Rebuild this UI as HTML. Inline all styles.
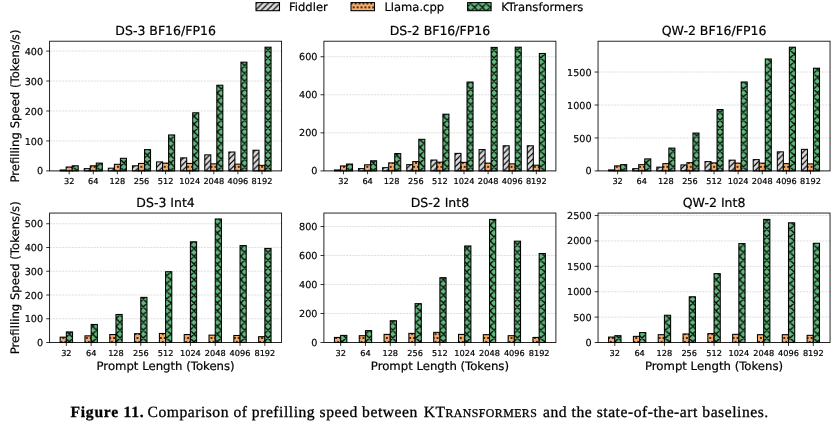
<!DOCTYPE html>
<html lang="en">
<head>
<meta charset="utf-8">
<title>Figure 11</title>
<style>
html,body{margin:0;padding:0;background:#fff;}
body{width:840px;height:425px;position:relative;overflow:hidden;}
.cap{position:absolute;left:0;top:0;width:840px;height:425px;
 font-family:"Liberation Serif","DejaVu Serif",serif;font-size:15.6px;color:#000;text-rendering:geometricPrecision;}
.seg{position:absolute;top:401px;line-height:24px;white-space:nowrap;-webkit-text-stroke:0.3px #000;}
.cap b{font-weight:bold;}
.cap .sm{font-size:0.76em;}
</style>
</head>
<body>
<svg width="840" height="385" viewBox="0 0 840 385" style="position:absolute;left:0;top:0;display:block">
<style>text{stroke:#000;stroke-width:0.2px}</style>
<defs>
<pattern id="hf" patternUnits="userSpaceOnUse" width="5.8448" height="5.8350" x="3.04" y="5.41"><path d="M-11.69 11.67 L5.84 -5.83 M-5.84 11.67 L11.69 -5.83 M0 11.67 L17.53 -5.83" stroke="#000" stroke-width="1.2" fill="none"/></pattern>
<pattern id="hk" patternUnits="userSpaceOnUse" width="7.7930" height="7.7800" x="6.94" y="7.36"><path d="M-15.59 15.56 L7.79 -7.78 M-15.59 -7.78 L7.79 15.56 M-7.79 15.56 L15.59 -7.78 M-7.79 -7.78 L15.59 15.56 M0 15.56 L23.38 -7.78 M0 -7.78 L23.38 15.56" stroke="#000" stroke-width="1.3" fill="none"/></pattern>
<pattern id="hl" patternUnits="userSpaceOnUse" width="3.8965" height="7.7800" x="3.04" y="7.36"><g fill="#000"><circle cx="0" cy="0" r="1"/><circle cx="3.9" cy="0" r="1"/><circle cx="0" cy="7.78" r="1"/><circle cx="3.9" cy="7.78" r="1"/><circle cx="1.95" cy="3.89" r="1"/></g></pattern>
</defs>
<g font-family="'DejaVu Sans','Liberation Sans',sans-serif" fill="#000" text-rendering="geometricPrecision">
<rect x="256" y="2.6" width="23.5" height="8.1" fill="#dbdbdb"/>
<rect x="256" y="2.6" width="23.5" height="8.1" fill="url(#hf)" stroke="#000" stroke-width="1.05"/>
<text x="289" y="10.9" font-size="11.55">Fiddler</text>
<rect x="351" y="2.6" width="23.5" height="8.1" fill="#f5ab69"/>
<rect x="351" y="2.6" width="23.5" height="8.1" fill="url(#hl)" stroke="#000" stroke-width="1.05"/>
<text x="384.4" y="10.9" font-size="11.55">Llama.cpp</text>
<rect x="467.6" y="2.6" width="23.5" height="8.1" fill="#62b97c"/>
<rect x="467.6" y="2.6" width="23.5" height="8.1" fill="url(#hk)" stroke="#000" stroke-width="1.05"/>
<text x="501.2" y="10.9" font-size="11.55">KTransformers</text>
<line x1="49.6" x2="281.6" y1="170.9" y2="170.9" stroke="#b0b0b0" stroke-opacity="0.6" stroke-width="0.65" stroke-dasharray="2.2 0.95"/>
<line x1="49.6" x2="281.6" y1="140.95" y2="140.95" stroke="#b0b0b0" stroke-opacity="0.6" stroke-width="0.65" stroke-dasharray="2.2 0.95"/>
<line x1="49.6" x2="281.6" y1="110.99" y2="110.99" stroke="#b0b0b0" stroke-opacity="0.6" stroke-width="0.65" stroke-dasharray="2.2 0.95"/>
<line x1="49.6" x2="281.6" y1="81.04" y2="81.04" stroke="#b0b0b0" stroke-opacity="0.6" stroke-width="0.65" stroke-dasharray="2.2 0.95"/>
<line x1="49.6" x2="281.6" y1="51.08" y2="51.08" stroke="#b0b0b0" stroke-opacity="0.6" stroke-width="0.65" stroke-dasharray="2.2 0.95"/>
<rect x="60.15" y="170" width="6.03" height="0.9" fill="#dbdbdb"/>
<rect x="60.15" y="170" width="6.03" height="0.9" fill="url(#hf)" stroke="#000" stroke-width="1.05"/>
<rect x="66.17" y="167.01" width="6.03" height="3.89" fill="#f5ab69"/>
<rect x="66.17" y="167.01" width="6.03" height="3.89" fill="url(#hl)" stroke="#000" stroke-width="1.05"/>
<rect x="72.2" y="165.81" width="6.03" height="5.09" fill="#62b97c"/>
<rect x="72.2" y="165.81" width="6.03" height="5.09" fill="url(#hk)" stroke="#000" stroke-width="1.05"/>
<rect x="84.25" y="168.65" width="6.03" height="2.25" fill="#dbdbdb"/>
<rect x="84.25" y="168.65" width="6.03" height="2.25" fill="url(#hf)" stroke="#000" stroke-width="1.05"/>
<rect x="90.28" y="165.81" width="6.03" height="5.09" fill="#f5ab69"/>
<rect x="90.28" y="165.81" width="6.03" height="5.09" fill="url(#hl)" stroke="#000" stroke-width="1.05"/>
<rect x="96.3" y="163.11" width="6.03" height="7.79" fill="#62b97c"/>
<rect x="96.3" y="163.11" width="6.03" height="7.79" fill="url(#hk)" stroke="#000" stroke-width="1.05"/>
<rect x="108.35" y="168.2" width="6.03" height="2.7" fill="#dbdbdb"/>
<rect x="108.35" y="168.2" width="6.03" height="2.7" fill="url(#hf)" stroke="#000" stroke-width="1.05"/>
<rect x="114.38" y="164.31" width="6.03" height="6.59" fill="#f5ab69"/>
<rect x="114.38" y="164.31" width="6.03" height="6.59" fill="url(#hl)" stroke="#000" stroke-width="1.05"/>
<rect x="120.41" y="158.32" width="6.03" height="12.58" fill="#62b97c"/>
<rect x="120.41" y="158.32" width="6.03" height="12.58" fill="url(#hk)" stroke="#000" stroke-width="1.05"/>
<rect x="132.46" y="165.81" width="6.03" height="5.09" fill="#dbdbdb"/>
<rect x="132.46" y="165.81" width="6.03" height="5.09" fill="url(#hf)" stroke="#000" stroke-width="1.05"/>
<rect x="138.48" y="163.41" width="6.03" height="7.49" fill="#f5ab69"/>
<rect x="138.48" y="163.41" width="6.03" height="7.49" fill="url(#hl)" stroke="#000" stroke-width="1.05"/>
<rect x="144.51" y="149.63" width="6.03" height="21.27" fill="#62b97c"/>
<rect x="144.51" y="149.63" width="6.03" height="21.27" fill="url(#hk)" stroke="#000" stroke-width="1.05"/>
<rect x="156.56" y="161.91" width="6.03" height="8.99" fill="#dbdbdb"/>
<rect x="156.56" y="161.91" width="6.03" height="8.99" fill="url(#hf)" stroke="#000" stroke-width="1.05"/>
<rect x="162.59" y="163.11" width="6.03" height="7.79" fill="#f5ab69"/>
<rect x="162.59" y="163.11" width="6.03" height="7.79" fill="url(#hl)" stroke="#000" stroke-width="1.05"/>
<rect x="168.61" y="134.96" width="6.03" height="35.94" fill="#62b97c"/>
<rect x="168.61" y="134.96" width="6.03" height="35.94" fill="url(#hk)" stroke="#000" stroke-width="1.05"/>
<rect x="180.66" y="157.87" width="6.03" height="13.03" fill="#dbdbdb"/>
<rect x="180.66" y="157.87" width="6.03" height="13.03" fill="url(#hf)" stroke="#000" stroke-width="1.05"/>
<rect x="186.69" y="163.41" width="6.03" height="7.49" fill="#f5ab69"/>
<rect x="186.69" y="163.41" width="6.03" height="7.49" fill="url(#hl)" stroke="#000" stroke-width="1.05"/>
<rect x="192.72" y="112.79" width="6.03" height="58.11" fill="#62b97c"/>
<rect x="192.72" y="112.79" width="6.03" height="58.11" fill="url(#hk)" stroke="#000" stroke-width="1.05"/>
<rect x="204.77" y="154.87" width="6.03" height="16.03" fill="#dbdbdb"/>
<rect x="204.77" y="154.87" width="6.03" height="16.03" fill="url(#hf)" stroke="#000" stroke-width="1.05"/>
<rect x="210.79" y="163.86" width="6.03" height="7.04" fill="#f5ab69"/>
<rect x="210.79" y="163.86" width="6.03" height="7.04" fill="url(#hl)" stroke="#000" stroke-width="1.05"/>
<rect x="216.82" y="85.23" width="6.03" height="85.67" fill="#62b97c"/>
<rect x="216.82" y="85.23" width="6.03" height="85.67" fill="url(#hk)" stroke="#000" stroke-width="1.05"/>
<rect x="228.87" y="152.03" width="6.03" height="18.87" fill="#dbdbdb"/>
<rect x="228.87" y="152.03" width="6.03" height="18.87" fill="url(#hf)" stroke="#000" stroke-width="1.05"/>
<rect x="234.9" y="164.16" width="6.03" height="6.74" fill="#f5ab69"/>
<rect x="234.9" y="164.16" width="6.03" height="6.74" fill="url(#hl)" stroke="#000" stroke-width="1.05"/>
<rect x="240.92" y="62.17" width="6.03" height="108.73" fill="#62b97c"/>
<rect x="240.92" y="62.17" width="6.03" height="108.73" fill="url(#hk)" stroke="#000" stroke-width="1.05"/>
<rect x="252.98" y="150.23" width="6.03" height="20.67" fill="#dbdbdb"/>
<rect x="252.98" y="150.23" width="6.03" height="20.67" fill="url(#hf)" stroke="#000" stroke-width="1.05"/>
<rect x="259" y="165.36" width="6.03" height="5.54" fill="#f5ab69"/>
<rect x="259" y="165.36" width="6.03" height="5.54" fill="url(#hl)" stroke="#000" stroke-width="1.05"/>
<rect x="265.03" y="47.19" width="6.03" height="123.71" fill="#62b97c"/>
<rect x="265.03" y="47.19" width="6.03" height="123.71" fill="url(#hk)" stroke="#000" stroke-width="1.05"/>
<rect x="49.6" y="41.2" width="232" height="129.7" fill="none" stroke="#000" stroke-width="0.85"/>
<line x1="46.2" x2="49.6" y1="170.9" y2="170.9" stroke="#000" stroke-width="0.8"/>
<text x="43.1" y="174.45" font-size="9.65" text-anchor="end">0</text>
<line x1="46.2" x2="49.6" y1="140.95" y2="140.95" stroke="#000" stroke-width="0.8"/>
<text x="43.1" y="144.5" font-size="9.65" text-anchor="end">100</text>
<line x1="46.2" x2="49.6" y1="110.99" y2="110.99" stroke="#000" stroke-width="0.8"/>
<text x="43.1" y="114.54" font-size="9.65" text-anchor="end">200</text>
<line x1="46.2" x2="49.6" y1="81.04" y2="81.04" stroke="#000" stroke-width="0.8"/>
<text x="43.1" y="84.59" font-size="9.65" text-anchor="end">300</text>
<line x1="46.2" x2="49.6" y1="51.08" y2="51.08" stroke="#000" stroke-width="0.8"/>
<text x="43.1" y="54.63" font-size="9.65" text-anchor="end">400</text>
<line x1="69.18" x2="69.18" y1="170.9" y2="174.3" stroke="#000" stroke-width="0.8"/>
<text x="69.18" y="184.2" font-size="8.2" text-anchor="middle">32</text>
<line x1="93.29" x2="93.29" y1="170.9" y2="174.3" stroke="#000" stroke-width="0.8"/>
<text x="93.29" y="184.2" font-size="8.2" text-anchor="middle">64</text>
<line x1="117.39" x2="117.39" y1="170.9" y2="174.3" stroke="#000" stroke-width="0.8"/>
<text x="117.39" y="184.2" font-size="8.2" text-anchor="middle">128</text>
<line x1="141.5" x2="141.5" y1="170.9" y2="174.3" stroke="#000" stroke-width="0.8"/>
<text x="141.5" y="184.2" font-size="8.2" text-anchor="middle">256</text>
<line x1="165.6" x2="165.6" y1="170.9" y2="174.3" stroke="#000" stroke-width="0.8"/>
<text x="165.6" y="184.2" font-size="8.2" text-anchor="middle">512</text>
<line x1="189.7" x2="189.7" y1="170.9" y2="174.3" stroke="#000" stroke-width="0.8"/>
<text x="189.7" y="184.2" font-size="8.2" text-anchor="middle">1024</text>
<line x1="213.81" x2="213.81" y1="170.9" y2="174.3" stroke="#000" stroke-width="0.8"/>
<text x="213.81" y="184.2" font-size="8.2" text-anchor="middle">2048</text>
<line x1="237.91" x2="237.91" y1="170.9" y2="174.3" stroke="#000" stroke-width="0.8"/>
<text x="237.91" y="184.2" font-size="8.2" text-anchor="middle">4096</text>
<line x1="262.02" x2="262.02" y1="170.9" y2="174.3" stroke="#000" stroke-width="0.8"/>
<text x="262.02" y="184.2" font-size="8.2" text-anchor="middle">8192</text>
<text x="165.6" y="35.2" font-size="12.5" text-anchor="middle">DS-3 BF16/FP16</text>
<text transform="translate(18.6 106.05) rotate(-90)" font-size="11.7" text-anchor="middle">Prefilling Speed (Tokens/s)</text>
<line x1="323.9" x2="555.9" y1="170.9" y2="170.9" stroke="#b0b0b0" stroke-opacity="0.6" stroke-width="0.65" stroke-dasharray="2.2 0.95"/>
<line x1="323.9" x2="555.9" y1="132.84" y2="132.84" stroke="#b0b0b0" stroke-opacity="0.6" stroke-width="0.65" stroke-dasharray="2.2 0.95"/>
<line x1="323.9" x2="555.9" y1="94.78" y2="94.78" stroke="#b0b0b0" stroke-opacity="0.6" stroke-width="0.65" stroke-dasharray="2.2 0.95"/>
<line x1="323.9" x2="555.9" y1="56.73" y2="56.73" stroke="#b0b0b0" stroke-opacity="0.6" stroke-width="0.65" stroke-dasharray="2.2 0.95"/>
<rect x="334.45" y="169.95" width="6.03" height="0.95" fill="#dbdbdb"/>
<rect x="334.45" y="169.95" width="6.03" height="0.95" fill="url(#hf)" stroke="#000" stroke-width="1.05"/>
<rect x="340.47" y="165.95" width="6.03" height="4.95" fill="#f5ab69"/>
<rect x="340.47" y="165.95" width="6.03" height="4.95" fill="url(#hl)" stroke="#000" stroke-width="1.05"/>
<rect x="346.5" y="164.05" width="6.03" height="6.85" fill="#62b97c"/>
<rect x="346.5" y="164.05" width="6.03" height="6.85" fill="url(#hk)" stroke="#000" stroke-width="1.05"/>
<rect x="358.55" y="168.62" width="6.03" height="2.28" fill="#dbdbdb"/>
<rect x="358.55" y="168.62" width="6.03" height="2.28" fill="url(#hf)" stroke="#000" stroke-width="1.05"/>
<rect x="364.58" y="164.81" width="6.03" height="6.09" fill="#f5ab69"/>
<rect x="364.58" y="164.81" width="6.03" height="6.09" fill="url(#hl)" stroke="#000" stroke-width="1.05"/>
<rect x="370.6" y="160.81" width="6.03" height="10.09" fill="#62b97c"/>
<rect x="370.6" y="160.81" width="6.03" height="10.09" fill="url(#hk)" stroke="#000" stroke-width="1.05"/>
<rect x="382.65" y="167.67" width="6.03" height="3.23" fill="#dbdbdb"/>
<rect x="382.65" y="167.67" width="6.03" height="3.23" fill="url(#hf)" stroke="#000" stroke-width="1.05"/>
<rect x="388.68" y="162.91" width="6.03" height="7.99" fill="#f5ab69"/>
<rect x="388.68" y="162.91" width="6.03" height="7.99" fill="url(#hl)" stroke="#000" stroke-width="1.05"/>
<rect x="394.71" y="153.58" width="6.03" height="17.32" fill="#62b97c"/>
<rect x="394.71" y="153.58" width="6.03" height="17.32" fill="url(#hk)" stroke="#000" stroke-width="1.05"/>
<rect x="406.76" y="164.62" width="6.03" height="6.28" fill="#dbdbdb"/>
<rect x="406.76" y="164.62" width="6.03" height="6.28" fill="url(#hf)" stroke="#000" stroke-width="1.05"/>
<rect x="412.78" y="161.58" width="6.03" height="9.32" fill="#f5ab69"/>
<rect x="412.78" y="161.58" width="6.03" height="9.32" fill="url(#hl)" stroke="#000" stroke-width="1.05"/>
<rect x="418.81" y="139.31" width="6.03" height="31.59" fill="#62b97c"/>
<rect x="418.81" y="139.31" width="6.03" height="31.59" fill="url(#hk)" stroke="#000" stroke-width="1.05"/>
<rect x="430.86" y="160.05" width="6.03" height="10.85" fill="#dbdbdb"/>
<rect x="430.86" y="160.05" width="6.03" height="10.85" fill="url(#hf)" stroke="#000" stroke-width="1.05"/>
<rect x="436.89" y="162.15" width="6.03" height="8.75" fill="#f5ab69"/>
<rect x="436.89" y="162.15" width="6.03" height="8.75" fill="url(#hl)" stroke="#000" stroke-width="1.05"/>
<rect x="442.91" y="114.19" width="6.03" height="56.71" fill="#62b97c"/>
<rect x="442.91" y="114.19" width="6.03" height="56.71" fill="url(#hk)" stroke="#000" stroke-width="1.05"/>
<rect x="454.96" y="153.39" width="6.03" height="17.51" fill="#dbdbdb"/>
<rect x="454.96" y="153.39" width="6.03" height="17.51" fill="url(#hf)" stroke="#000" stroke-width="1.05"/>
<rect x="460.99" y="162.34" width="6.03" height="8.56" fill="#f5ab69"/>
<rect x="460.99" y="162.34" width="6.03" height="8.56" fill="url(#hl)" stroke="#000" stroke-width="1.05"/>
<rect x="467.02" y="82.04" width="6.03" height="88.86" fill="#62b97c"/>
<rect x="467.02" y="82.04" width="6.03" height="88.86" fill="url(#hk)" stroke="#000" stroke-width="1.05"/>
<rect x="479.07" y="149.59" width="6.03" height="21.31" fill="#dbdbdb"/>
<rect x="479.07" y="149.59" width="6.03" height="21.31" fill="url(#hf)" stroke="#000" stroke-width="1.05"/>
<rect x="485.09" y="163.1" width="6.03" height="7.8" fill="#f5ab69"/>
<rect x="485.09" y="163.1" width="6.03" height="7.8" fill="url(#hl)" stroke="#000" stroke-width="1.05"/>
<rect x="491.12" y="47.4" width="6.03" height="123.5" fill="#62b97c"/>
<rect x="491.12" y="47.4" width="6.03" height="123.5" fill="url(#hk)" stroke="#000" stroke-width="1.05"/>
<rect x="503.17" y="145.78" width="6.03" height="25.12" fill="#dbdbdb"/>
<rect x="503.17" y="145.78" width="6.03" height="25.12" fill="url(#hf)" stroke="#000" stroke-width="1.05"/>
<rect x="509.2" y="163.86" width="6.03" height="7.04" fill="#f5ab69"/>
<rect x="509.2" y="163.86" width="6.03" height="7.04" fill="url(#hl)" stroke="#000" stroke-width="1.05"/>
<rect x="515.22" y="47.21" width="6.03" height="123.69" fill="#62b97c"/>
<rect x="515.22" y="47.21" width="6.03" height="123.69" fill="url(#hk)" stroke="#000" stroke-width="1.05"/>
<rect x="527.28" y="145.78" width="6.03" height="25.12" fill="#dbdbdb"/>
<rect x="527.28" y="145.78" width="6.03" height="25.12" fill="url(#hf)" stroke="#000" stroke-width="1.05"/>
<rect x="533.3" y="165.19" width="6.03" height="5.71" fill="#f5ab69"/>
<rect x="533.3" y="165.19" width="6.03" height="5.71" fill="url(#hl)" stroke="#000" stroke-width="1.05"/>
<rect x="539.33" y="53.49" width="6.03" height="117.41" fill="#62b97c"/>
<rect x="539.33" y="53.49" width="6.03" height="117.41" fill="url(#hk)" stroke="#000" stroke-width="1.05"/>
<rect x="323.9" y="41.2" width="232" height="129.7" fill="none" stroke="#000" stroke-width="0.85"/>
<line x1="320.5" x2="323.9" y1="170.9" y2="170.9" stroke="#000" stroke-width="0.8"/>
<text x="317.4" y="174.45" font-size="9.65" text-anchor="end">0</text>
<line x1="320.5" x2="323.9" y1="132.84" y2="132.84" stroke="#000" stroke-width="0.8"/>
<text x="317.4" y="136.39" font-size="9.65" text-anchor="end">200</text>
<line x1="320.5" x2="323.9" y1="94.78" y2="94.78" stroke="#000" stroke-width="0.8"/>
<text x="317.4" y="98.33" font-size="9.65" text-anchor="end">400</text>
<line x1="320.5" x2="323.9" y1="56.73" y2="56.73" stroke="#000" stroke-width="0.8"/>
<text x="317.4" y="60.28" font-size="9.65" text-anchor="end">600</text>
<line x1="343.48" x2="343.48" y1="170.9" y2="174.3" stroke="#000" stroke-width="0.8"/>
<text x="343.48" y="184.2" font-size="8.2" text-anchor="middle">32</text>
<line x1="367.59" x2="367.59" y1="170.9" y2="174.3" stroke="#000" stroke-width="0.8"/>
<text x="367.59" y="184.2" font-size="8.2" text-anchor="middle">64</text>
<line x1="391.69" x2="391.69" y1="170.9" y2="174.3" stroke="#000" stroke-width="0.8"/>
<text x="391.69" y="184.2" font-size="8.2" text-anchor="middle">128</text>
<line x1="415.8" x2="415.8" y1="170.9" y2="174.3" stroke="#000" stroke-width="0.8"/>
<text x="415.8" y="184.2" font-size="8.2" text-anchor="middle">256</text>
<line x1="439.9" x2="439.9" y1="170.9" y2="174.3" stroke="#000" stroke-width="0.8"/>
<text x="439.9" y="184.2" font-size="8.2" text-anchor="middle">512</text>
<line x1="464" x2="464" y1="170.9" y2="174.3" stroke="#000" stroke-width="0.8"/>
<text x="464" y="184.2" font-size="8.2" text-anchor="middle">1024</text>
<line x1="488.11" x2="488.11" y1="170.9" y2="174.3" stroke="#000" stroke-width="0.8"/>
<text x="488.11" y="184.2" font-size="8.2" text-anchor="middle">2048</text>
<line x1="512.21" x2="512.21" y1="170.9" y2="174.3" stroke="#000" stroke-width="0.8"/>
<text x="512.21" y="184.2" font-size="8.2" text-anchor="middle">4096</text>
<line x1="536.32" x2="536.32" y1="170.9" y2="174.3" stroke="#000" stroke-width="0.8"/>
<text x="536.32" y="184.2" font-size="8.2" text-anchor="middle">8192</text>
<text x="439.9" y="35.2" font-size="12.5" text-anchor="middle">DS-2 BF16/FP16</text>
<line x1="598.05" x2="830.05" y1="170.9" y2="170.9" stroke="#b0b0b0" stroke-opacity="0.6" stroke-width="0.65" stroke-dasharray="2.2 0.95"/>
<line x1="598.05" x2="830.05" y1="137.95" y2="137.95" stroke="#b0b0b0" stroke-opacity="0.6" stroke-width="0.65" stroke-dasharray="2.2 0.95"/>
<line x1="598.05" x2="830.05" y1="105" y2="105" stroke="#b0b0b0" stroke-opacity="0.6" stroke-width="0.65" stroke-dasharray="2.2 0.95"/>
<line x1="598.05" x2="830.05" y1="72.04" y2="72.04" stroke="#b0b0b0" stroke-opacity="0.6" stroke-width="0.65" stroke-dasharray="2.2 0.95"/>
<rect x="608.6" y="169.91" width="6.03" height="0.99" fill="#dbdbdb"/>
<rect x="608.6" y="169.91" width="6.03" height="0.99" fill="url(#hf)" stroke="#000" stroke-width="1.05"/>
<rect x="614.62" y="165.89" width="6.03" height="5.01" fill="#f5ab69"/>
<rect x="614.62" y="165.89" width="6.03" height="5.01" fill="url(#hl)" stroke="#000" stroke-width="1.05"/>
<rect x="620.65" y="164.64" width="6.03" height="6.26" fill="#62b97c"/>
<rect x="620.65" y="164.64" width="6.03" height="6.26" fill="url(#hk)" stroke="#000" stroke-width="1.05"/>
<rect x="632.7" y="168.66" width="6.03" height="2.24" fill="#dbdbdb"/>
<rect x="632.7" y="168.66" width="6.03" height="2.24" fill="url(#hf)" stroke="#000" stroke-width="1.05"/>
<rect x="638.73" y="164.64" width="6.03" height="6.26" fill="#f5ab69"/>
<rect x="638.73" y="164.64" width="6.03" height="6.26" fill="url(#hl)" stroke="#000" stroke-width="1.05"/>
<rect x="644.75" y="158.91" width="6.03" height="11.99" fill="#62b97c"/>
<rect x="644.75" y="158.91" width="6.03" height="11.99" fill="url(#hk)" stroke="#000" stroke-width="1.05"/>
<rect x="656.8" y="167.14" width="6.03" height="3.76" fill="#dbdbdb"/>
<rect x="656.8" y="167.14" width="6.03" height="3.76" fill="url(#hf)" stroke="#000" stroke-width="1.05"/>
<rect x="662.83" y="163.65" width="6.03" height="7.25" fill="#f5ab69"/>
<rect x="662.83" y="163.65" width="6.03" height="7.25" fill="url(#hl)" stroke="#000" stroke-width="1.05"/>
<rect x="668.86" y="148.1" width="6.03" height="22.8" fill="#62b97c"/>
<rect x="668.86" y="148.1" width="6.03" height="22.8" fill="url(#hk)" stroke="#000" stroke-width="1.05"/>
<rect x="680.91" y="164.9" width="6.03" height="6" fill="#dbdbdb"/>
<rect x="680.91" y="164.9" width="6.03" height="6" fill="url(#hf)" stroke="#000" stroke-width="1.05"/>
<rect x="686.93" y="162.66" width="6.03" height="8.24" fill="#f5ab69"/>
<rect x="686.93" y="162.66" width="6.03" height="8.24" fill="url(#hl)" stroke="#000" stroke-width="1.05"/>
<rect x="692.96" y="133.07" width="6.03" height="37.83" fill="#62b97c"/>
<rect x="692.96" y="133.07" width="6.03" height="37.83" fill="url(#hk)" stroke="#000" stroke-width="1.05"/>
<rect x="705.01" y="161.61" width="6.03" height="9.29" fill="#dbdbdb"/>
<rect x="705.01" y="161.61" width="6.03" height="9.29" fill="url(#hf)" stroke="#000" stroke-width="1.05"/>
<rect x="711.04" y="162.86" width="6.03" height="8.04" fill="#f5ab69"/>
<rect x="711.04" y="162.86" width="6.03" height="8.04" fill="url(#hl)" stroke="#000" stroke-width="1.05"/>
<rect x="717.06" y="109.54" width="6.03" height="61.36" fill="#62b97c"/>
<rect x="717.06" y="109.54" width="6.03" height="61.36" fill="url(#hk)" stroke="#000" stroke-width="1.05"/>
<rect x="729.11" y="160.16" width="6.03" height="10.74" fill="#dbdbdb"/>
<rect x="729.11" y="160.16" width="6.03" height="10.74" fill="url(#hf)" stroke="#000" stroke-width="1.05"/>
<rect x="735.14" y="163.12" width="6.03" height="7.78" fill="#f5ab69"/>
<rect x="735.14" y="163.12" width="6.03" height="7.78" fill="url(#hl)" stroke="#000" stroke-width="1.05"/>
<rect x="741.17" y="81.99" width="6.03" height="88.91" fill="#62b97c"/>
<rect x="741.17" y="81.99" width="6.03" height="88.91" fill="url(#hk)" stroke="#000" stroke-width="1.05"/>
<rect x="753.22" y="159.63" width="6.03" height="11.27" fill="#dbdbdb"/>
<rect x="753.22" y="159.63" width="6.03" height="11.27" fill="url(#hf)" stroke="#000" stroke-width="1.05"/>
<rect x="759.24" y="163.12" width="6.03" height="7.78" fill="#f5ab69"/>
<rect x="759.24" y="163.12" width="6.03" height="7.78" fill="url(#hl)" stroke="#000" stroke-width="1.05"/>
<rect x="765.27" y="58.99" width="6.03" height="111.91" fill="#62b97c"/>
<rect x="765.27" y="58.99" width="6.03" height="111.91" fill="url(#hk)" stroke="#000" stroke-width="1.05"/>
<rect x="777.32" y="151.85" width="6.03" height="19.05" fill="#dbdbdb"/>
<rect x="777.32" y="151.85" width="6.03" height="19.05" fill="url(#hf)" stroke="#000" stroke-width="1.05"/>
<rect x="783.35" y="163.65" width="6.03" height="7.25" fill="#f5ab69"/>
<rect x="783.35" y="163.65" width="6.03" height="7.25" fill="url(#hl)" stroke="#000" stroke-width="1.05"/>
<rect x="789.37" y="47.2" width="6.03" height="123.7" fill="#62b97c"/>
<rect x="789.37" y="47.2" width="6.03" height="123.7" fill="url(#hk)" stroke="#000" stroke-width="1.05"/>
<rect x="801.43" y="149.35" width="6.03" height="21.55" fill="#dbdbdb"/>
<rect x="801.43" y="149.35" width="6.03" height="21.55" fill="url(#hf)" stroke="#000" stroke-width="1.05"/>
<rect x="807.45" y="163.91" width="6.03" height="6.99" fill="#f5ab69"/>
<rect x="807.45" y="163.91" width="6.03" height="6.99" fill="url(#hl)" stroke="#000" stroke-width="1.05"/>
<rect x="813.48" y="68.22" width="6.03" height="102.68" fill="#62b97c"/>
<rect x="813.48" y="68.22" width="6.03" height="102.68" fill="url(#hk)" stroke="#000" stroke-width="1.05"/>
<rect x="598.05" y="41.2" width="232" height="129.7" fill="none" stroke="#000" stroke-width="0.85"/>
<line x1="594.65" x2="598.05" y1="170.9" y2="170.9" stroke="#000" stroke-width="0.8"/>
<text x="591.55" y="174.45" font-size="9.65" text-anchor="end">0</text>
<line x1="594.65" x2="598.05" y1="137.95" y2="137.95" stroke="#000" stroke-width="0.8"/>
<text x="591.55" y="141.5" font-size="9.65" text-anchor="end">500</text>
<line x1="594.65" x2="598.05" y1="105" y2="105" stroke="#000" stroke-width="0.8"/>
<text x="591.55" y="108.55" font-size="9.65" text-anchor="end">1000</text>
<line x1="594.65" x2="598.05" y1="72.04" y2="72.04" stroke="#000" stroke-width="0.8"/>
<text x="591.55" y="75.59" font-size="9.65" text-anchor="end">1500</text>
<line x1="617.63" x2="617.63" y1="170.9" y2="174.3" stroke="#000" stroke-width="0.8"/>
<text x="617.63" y="184.2" font-size="8.2" text-anchor="middle">32</text>
<line x1="641.74" x2="641.74" y1="170.9" y2="174.3" stroke="#000" stroke-width="0.8"/>
<text x="641.74" y="184.2" font-size="8.2" text-anchor="middle">64</text>
<line x1="665.84" x2="665.84" y1="170.9" y2="174.3" stroke="#000" stroke-width="0.8"/>
<text x="665.84" y="184.2" font-size="8.2" text-anchor="middle">128</text>
<line x1="689.95" x2="689.95" y1="170.9" y2="174.3" stroke="#000" stroke-width="0.8"/>
<text x="689.95" y="184.2" font-size="8.2" text-anchor="middle">256</text>
<line x1="714.05" x2="714.05" y1="170.9" y2="174.3" stroke="#000" stroke-width="0.8"/>
<text x="714.05" y="184.2" font-size="8.2" text-anchor="middle">512</text>
<line x1="738.15" x2="738.15" y1="170.9" y2="174.3" stroke="#000" stroke-width="0.8"/>
<text x="738.15" y="184.2" font-size="8.2" text-anchor="middle">1024</text>
<line x1="762.26" x2="762.26" y1="170.9" y2="174.3" stroke="#000" stroke-width="0.8"/>
<text x="762.26" y="184.2" font-size="8.2" text-anchor="middle">2048</text>
<line x1="786.36" x2="786.36" y1="170.9" y2="174.3" stroke="#000" stroke-width="0.8"/>
<text x="786.36" y="184.2" font-size="8.2" text-anchor="middle">4096</text>
<line x1="810.47" x2="810.47" y1="170.9" y2="174.3" stroke="#000" stroke-width="0.8"/>
<text x="810.47" y="184.2" font-size="8.2" text-anchor="middle">8192</text>
<text x="714.05" y="35.2" font-size="12.5" text-anchor="middle">QW-2 BF16/FP16</text>
<line x1="49.6" x2="281.6" y1="342.5" y2="342.5" stroke="#b0b0b0" stroke-opacity="0.6" stroke-width="0.65" stroke-dasharray="2.2 0.95"/>
<line x1="49.6" x2="281.6" y1="318.75" y2="318.75" stroke="#b0b0b0" stroke-opacity="0.6" stroke-width="0.65" stroke-dasharray="2.2 0.95"/>
<line x1="49.6" x2="281.6" y1="295" y2="295" stroke="#b0b0b0" stroke-opacity="0.6" stroke-width="0.65" stroke-dasharray="2.2 0.95"/>
<line x1="49.6" x2="281.6" y1="271.24" y2="271.24" stroke="#b0b0b0" stroke-opacity="0.6" stroke-width="0.65" stroke-dasharray="2.2 0.95"/>
<line x1="49.6" x2="281.6" y1="247.49" y2="247.49" stroke="#b0b0b0" stroke-opacity="0.6" stroke-width="0.65" stroke-dasharray="2.2 0.95"/>
<line x1="49.6" x2="281.6" y1="223.74" y2="223.74" stroke="#b0b0b0" stroke-opacity="0.6" stroke-width="0.65" stroke-dasharray="2.2 0.95"/>
<rect x="60.15" y="337.16" width="6.2" height="5.34" fill="#f5ab69"/>
<rect x="60.15" y="337.16" width="6.2" height="5.34" fill="url(#hl)" stroke="#000" stroke-width="1.05"/>
<rect x="66.35" y="331.93" width="6.2" height="10.57" fill="#62b97c"/>
<rect x="66.35" y="331.93" width="6.2" height="10.57" fill="url(#hk)" stroke="#000" stroke-width="1.05"/>
<rect x="84.96" y="335.85" width="6.2" height="6.65" fill="#f5ab69"/>
<rect x="84.96" y="335.85" width="6.2" height="6.65" fill="url(#hl)" stroke="#000" stroke-width="1.05"/>
<rect x="91.16" y="324.45" width="6.2" height="18.05" fill="#62b97c"/>
<rect x="91.16" y="324.45" width="6.2" height="18.05" fill="url(#hk)" stroke="#000" stroke-width="1.05"/>
<rect x="109.77" y="334.54" width="6.2" height="7.96" fill="#f5ab69"/>
<rect x="109.77" y="334.54" width="6.2" height="7.96" fill="url(#hl)" stroke="#000" stroke-width="1.05"/>
<rect x="115.97" y="314.47" width="6.2" height="28.03" fill="#62b97c"/>
<rect x="115.97" y="314.47" width="6.2" height="28.03" fill="url(#hk)" stroke="#000" stroke-width="1.05"/>
<rect x="134.58" y="333.71" width="6.2" height="8.79" fill="#f5ab69"/>
<rect x="134.58" y="333.71" width="6.2" height="8.79" fill="url(#hl)" stroke="#000" stroke-width="1.05"/>
<rect x="140.79" y="297.37" width="6.2" height="45.13" fill="#62b97c"/>
<rect x="140.79" y="297.37" width="6.2" height="45.13" fill="url(#hk)" stroke="#000" stroke-width="1.05"/>
<rect x="159.4" y="333.47" width="6.2" height="9.03" fill="#f5ab69"/>
<rect x="159.4" y="333.47" width="6.2" height="9.03" fill="url(#hl)" stroke="#000" stroke-width="1.05"/>
<rect x="165.6" y="271.72" width="6.2" height="70.78" fill="#62b97c"/>
<rect x="165.6" y="271.72" width="6.2" height="70.78" fill="url(#hk)" stroke="#000" stroke-width="1.05"/>
<rect x="184.21" y="334.54" width="6.2" height="7.96" fill="#f5ab69"/>
<rect x="184.21" y="334.54" width="6.2" height="7.96" fill="url(#hl)" stroke="#000" stroke-width="1.05"/>
<rect x="190.41" y="241.79" width="6.2" height="100.71" fill="#62b97c"/>
<rect x="190.41" y="241.79" width="6.2" height="100.71" fill="url(#hk)" stroke="#000" stroke-width="1.05"/>
<rect x="209.02" y="335.14" width="6.2" height="7.36" fill="#f5ab69"/>
<rect x="209.02" y="335.14" width="6.2" height="7.36" fill="url(#hl)" stroke="#000" stroke-width="1.05"/>
<rect x="215.23" y="218.99" width="6.2" height="123.51" fill="#62b97c"/>
<rect x="215.23" y="218.99" width="6.2" height="123.51" fill="url(#hk)" stroke="#000" stroke-width="1.05"/>
<rect x="233.84" y="335.49" width="6.2" height="7.01" fill="#f5ab69"/>
<rect x="233.84" y="335.49" width="6.2" height="7.01" fill="url(#hl)" stroke="#000" stroke-width="1.05"/>
<rect x="240.04" y="245.59" width="6.2" height="96.91" fill="#62b97c"/>
<rect x="240.04" y="245.59" width="6.2" height="96.91" fill="url(#hk)" stroke="#000" stroke-width="1.05"/>
<rect x="258.65" y="336.68" width="6.2" height="5.82" fill="#f5ab69"/>
<rect x="258.65" y="336.68" width="6.2" height="5.82" fill="url(#hl)" stroke="#000" stroke-width="1.05"/>
<rect x="264.85" y="248.44" width="6.2" height="94.06" fill="#62b97c"/>
<rect x="264.85" y="248.44" width="6.2" height="94.06" fill="url(#hk)" stroke="#000" stroke-width="1.05"/>
<rect x="49.6" y="213.05" width="232" height="129.45" fill="none" stroke="#000" stroke-width="0.85"/>
<line x1="46.2" x2="49.6" y1="342.5" y2="342.5" stroke="#000" stroke-width="0.8"/>
<text x="43.1" y="346.05" font-size="9.65" text-anchor="end">0</text>
<line x1="46.2" x2="49.6" y1="318.75" y2="318.75" stroke="#000" stroke-width="0.8"/>
<text x="43.1" y="322.3" font-size="9.65" text-anchor="end">100</text>
<line x1="46.2" x2="49.6" y1="295" y2="295" stroke="#000" stroke-width="0.8"/>
<text x="43.1" y="298.55" font-size="9.65" text-anchor="end">200</text>
<line x1="46.2" x2="49.6" y1="271.24" y2="271.24" stroke="#000" stroke-width="0.8"/>
<text x="43.1" y="274.79" font-size="9.65" text-anchor="end">300</text>
<line x1="46.2" x2="49.6" y1="247.49" y2="247.49" stroke="#000" stroke-width="0.8"/>
<text x="43.1" y="251.04" font-size="9.65" text-anchor="end">400</text>
<line x1="46.2" x2="49.6" y1="223.74" y2="223.74" stroke="#000" stroke-width="0.8"/>
<text x="43.1" y="227.29" font-size="9.65" text-anchor="end">500</text>
<line x1="66.35" x2="66.35" y1="342.5" y2="345.9" stroke="#000" stroke-width="0.8"/>
<text x="66.35" y="355.8" font-size="8.2" text-anchor="middle">32</text>
<line x1="91.16" x2="91.16" y1="342.5" y2="345.9" stroke="#000" stroke-width="0.8"/>
<text x="91.16" y="355.8" font-size="8.2" text-anchor="middle">64</text>
<line x1="115.97" x2="115.97" y1="342.5" y2="345.9" stroke="#000" stroke-width="0.8"/>
<text x="115.97" y="355.8" font-size="8.2" text-anchor="middle">128</text>
<line x1="140.79" x2="140.79" y1="342.5" y2="345.9" stroke="#000" stroke-width="0.8"/>
<text x="140.79" y="355.8" font-size="8.2" text-anchor="middle">256</text>
<line x1="165.6" x2="165.6" y1="342.5" y2="345.9" stroke="#000" stroke-width="0.8"/>
<text x="165.6" y="355.8" font-size="8.2" text-anchor="middle">512</text>
<line x1="190.41" x2="190.41" y1="342.5" y2="345.9" stroke="#000" stroke-width="0.8"/>
<text x="190.41" y="355.8" font-size="8.2" text-anchor="middle">1024</text>
<line x1="215.23" x2="215.23" y1="342.5" y2="345.9" stroke="#000" stroke-width="0.8"/>
<text x="215.23" y="355.8" font-size="8.2" text-anchor="middle">2048</text>
<line x1="240.04" x2="240.04" y1="342.5" y2="345.9" stroke="#000" stroke-width="0.8"/>
<text x="240.04" y="355.8" font-size="8.2" text-anchor="middle">4096</text>
<line x1="264.85" x2="264.85" y1="342.5" y2="345.9" stroke="#000" stroke-width="0.8"/>
<text x="264.85" y="355.8" font-size="8.2" text-anchor="middle">8192</text>
<text x="165.6" y="207.05" font-size="12.5" text-anchor="middle">DS-3 Int4</text>
<text x="165.6" y="369.9" font-size="11.7" text-anchor="middle">Prompt Length (Tokens)</text>
<text transform="translate(18.6 277.77) rotate(-90)" font-size="11.7" text-anchor="middle">Prefilling Speed (Tokens/s)</text>
<line x1="323.9" x2="555.9" y1="342.5" y2="342.5" stroke="#b0b0b0" stroke-opacity="0.6" stroke-width="0.65" stroke-dasharray="2.2 0.95"/>
<line x1="323.9" x2="555.9" y1="313.51" y2="313.51" stroke="#b0b0b0" stroke-opacity="0.6" stroke-width="0.65" stroke-dasharray="2.2 0.95"/>
<line x1="323.9" x2="555.9" y1="284.52" y2="284.52" stroke="#b0b0b0" stroke-opacity="0.6" stroke-width="0.65" stroke-dasharray="2.2 0.95"/>
<line x1="323.9" x2="555.9" y1="255.52" y2="255.52" stroke="#b0b0b0" stroke-opacity="0.6" stroke-width="0.65" stroke-dasharray="2.2 0.95"/>
<line x1="323.9" x2="555.9" y1="226.53" y2="226.53" stroke="#b0b0b0" stroke-opacity="0.6" stroke-width="0.65" stroke-dasharray="2.2 0.95"/>
<rect x="334.45" y="337.43" width="6.2" height="5.07" fill="#f5ab69"/>
<rect x="334.45" y="337.43" width="6.2" height="5.07" fill="url(#hl)" stroke="#000" stroke-width="1.05"/>
<rect x="340.65" y="335.4" width="6.2" height="7.1" fill="#62b97c"/>
<rect x="340.65" y="335.4" width="6.2" height="7.1" fill="url(#hk)" stroke="#000" stroke-width="1.05"/>
<rect x="359.26" y="335.69" width="6.2" height="6.81" fill="#f5ab69"/>
<rect x="359.26" y="335.69" width="6.2" height="6.81" fill="url(#hl)" stroke="#000" stroke-width="1.05"/>
<rect x="365.46" y="330.61" width="6.2" height="11.89" fill="#62b97c"/>
<rect x="365.46" y="330.61" width="6.2" height="11.89" fill="url(#hk)" stroke="#000" stroke-width="1.05"/>
<rect x="384.07" y="334.38" width="6.2" height="8.12" fill="#f5ab69"/>
<rect x="384.07" y="334.38" width="6.2" height="8.12" fill="url(#hl)" stroke="#000" stroke-width="1.05"/>
<rect x="390.27" y="320.76" width="6.2" height="21.74" fill="#62b97c"/>
<rect x="390.27" y="320.76" width="6.2" height="21.74" fill="url(#hk)" stroke="#000" stroke-width="1.05"/>
<rect x="408.88" y="333.37" width="6.2" height="9.13" fill="#f5ab69"/>
<rect x="408.88" y="333.37" width="6.2" height="9.13" fill="url(#hl)" stroke="#000" stroke-width="1.05"/>
<rect x="415.09" y="303.65" width="6.2" height="38.85" fill="#62b97c"/>
<rect x="415.09" y="303.65" width="6.2" height="38.85" fill="url(#hk)" stroke="#000" stroke-width="1.05"/>
<rect x="433.7" y="332.35" width="6.2" height="10.15" fill="#f5ab69"/>
<rect x="433.7" y="332.35" width="6.2" height="10.15" fill="url(#hl)" stroke="#000" stroke-width="1.05"/>
<rect x="439.9" y="277.7" width="6.2" height="64.8" fill="#62b97c"/>
<rect x="439.9" y="277.7" width="6.2" height="64.8" fill="url(#hk)" stroke="#000" stroke-width="1.05"/>
<rect x="458.51" y="334.38" width="6.2" height="8.12" fill="#f5ab69"/>
<rect x="458.51" y="334.38" width="6.2" height="8.12" fill="url(#hl)" stroke="#000" stroke-width="1.05"/>
<rect x="464.71" y="245.96" width="6.2" height="96.54" fill="#62b97c"/>
<rect x="464.71" y="245.96" width="6.2" height="96.54" fill="url(#hk)" stroke="#000" stroke-width="1.05"/>
<rect x="483.32" y="334.67" width="6.2" height="7.83" fill="#f5ab69"/>
<rect x="483.32" y="334.67" width="6.2" height="7.83" fill="url(#hl)" stroke="#000" stroke-width="1.05"/>
<rect x="489.53" y="219.43" width="6.2" height="123.07" fill="#62b97c"/>
<rect x="489.53" y="219.43" width="6.2" height="123.07" fill="url(#hk)" stroke="#000" stroke-width="1.05"/>
<rect x="508.14" y="335.69" width="6.2" height="6.81" fill="#f5ab69"/>
<rect x="508.14" y="335.69" width="6.2" height="6.81" fill="url(#hl)" stroke="#000" stroke-width="1.05"/>
<rect x="514.34" y="241.17" width="6.2" height="101.33" fill="#62b97c"/>
<rect x="514.34" y="241.17" width="6.2" height="101.33" fill="url(#hk)" stroke="#000" stroke-width="1.05"/>
<rect x="532.95" y="337.43" width="6.2" height="5.07" fill="#f5ab69"/>
<rect x="532.95" y="337.43" width="6.2" height="5.07" fill="url(#hl)" stroke="#000" stroke-width="1.05"/>
<rect x="539.15" y="253.49" width="6.2" height="89.01" fill="#62b97c"/>
<rect x="539.15" y="253.49" width="6.2" height="89.01" fill="url(#hk)" stroke="#000" stroke-width="1.05"/>
<rect x="323.9" y="213.05" width="232" height="129.45" fill="none" stroke="#000" stroke-width="0.85"/>
<line x1="320.5" x2="323.9" y1="342.5" y2="342.5" stroke="#000" stroke-width="0.8"/>
<text x="317.4" y="346.05" font-size="9.65" text-anchor="end">0</text>
<line x1="320.5" x2="323.9" y1="313.51" y2="313.51" stroke="#000" stroke-width="0.8"/>
<text x="317.4" y="317.06" font-size="9.65" text-anchor="end">200</text>
<line x1="320.5" x2="323.9" y1="284.52" y2="284.52" stroke="#000" stroke-width="0.8"/>
<text x="317.4" y="288.07" font-size="9.65" text-anchor="end">400</text>
<line x1="320.5" x2="323.9" y1="255.52" y2="255.52" stroke="#000" stroke-width="0.8"/>
<text x="317.4" y="259.07" font-size="9.65" text-anchor="end">600</text>
<line x1="320.5" x2="323.9" y1="226.53" y2="226.53" stroke="#000" stroke-width="0.8"/>
<text x="317.4" y="230.08" font-size="9.65" text-anchor="end">800</text>
<line x1="340.65" x2="340.65" y1="342.5" y2="345.9" stroke="#000" stroke-width="0.8"/>
<text x="340.65" y="355.8" font-size="8.2" text-anchor="middle">32</text>
<line x1="365.46" x2="365.46" y1="342.5" y2="345.9" stroke="#000" stroke-width="0.8"/>
<text x="365.46" y="355.8" font-size="8.2" text-anchor="middle">64</text>
<line x1="390.27" x2="390.27" y1="342.5" y2="345.9" stroke="#000" stroke-width="0.8"/>
<text x="390.27" y="355.8" font-size="8.2" text-anchor="middle">128</text>
<line x1="415.09" x2="415.09" y1="342.5" y2="345.9" stroke="#000" stroke-width="0.8"/>
<text x="415.09" y="355.8" font-size="8.2" text-anchor="middle">256</text>
<line x1="439.9" x2="439.9" y1="342.5" y2="345.9" stroke="#000" stroke-width="0.8"/>
<text x="439.9" y="355.8" font-size="8.2" text-anchor="middle">512</text>
<line x1="464.71" x2="464.71" y1="342.5" y2="345.9" stroke="#000" stroke-width="0.8"/>
<text x="464.71" y="355.8" font-size="8.2" text-anchor="middle">1024</text>
<line x1="489.53" x2="489.53" y1="342.5" y2="345.9" stroke="#000" stroke-width="0.8"/>
<text x="489.53" y="355.8" font-size="8.2" text-anchor="middle">2048</text>
<line x1="514.34" x2="514.34" y1="342.5" y2="345.9" stroke="#000" stroke-width="0.8"/>
<text x="514.34" y="355.8" font-size="8.2" text-anchor="middle">4096</text>
<line x1="539.15" x2="539.15" y1="342.5" y2="345.9" stroke="#000" stroke-width="0.8"/>
<text x="539.15" y="355.8" font-size="8.2" text-anchor="middle">8192</text>
<text x="439.9" y="207.05" font-size="12.5" text-anchor="middle">DS-2 Int8</text>
<text x="439.9" y="369.9" font-size="11.7" text-anchor="middle">Prompt Length (Tokens)</text>
<line x1="598.05" x2="830.05" y1="342.5" y2="342.5" stroke="#b0b0b0" stroke-opacity="0.6" stroke-width="0.65" stroke-dasharray="2.2 0.95"/>
<line x1="598.05" x2="830.05" y1="317.11" y2="317.11" stroke="#b0b0b0" stroke-opacity="0.6" stroke-width="0.65" stroke-dasharray="2.2 0.95"/>
<line x1="598.05" x2="830.05" y1="291.72" y2="291.72" stroke="#b0b0b0" stroke-opacity="0.6" stroke-width="0.65" stroke-dasharray="2.2 0.95"/>
<line x1="598.05" x2="830.05" y1="266.32" y2="266.32" stroke="#b0b0b0" stroke-opacity="0.6" stroke-width="0.65" stroke-dasharray="2.2 0.95"/>
<line x1="598.05" x2="830.05" y1="240.93" y2="240.93" stroke="#b0b0b0" stroke-opacity="0.6" stroke-width="0.65" stroke-dasharray="2.2 0.95"/>
<line x1="598.05" x2="830.05" y1="215.54" y2="215.54" stroke="#b0b0b0" stroke-opacity="0.6" stroke-width="0.65" stroke-dasharray="2.2 0.95"/>
<rect x="608.6" y="337.07" width="6.2" height="5.43" fill="#f5ab69"/>
<rect x="608.6" y="337.07" width="6.2" height="5.43" fill="url(#hl)" stroke="#000" stroke-width="1.05"/>
<rect x="614.8" y="335.69" width="6.2" height="6.81" fill="#62b97c"/>
<rect x="614.8" y="335.69" width="6.2" height="6.81" fill="url(#hk)" stroke="#000" stroke-width="1.05"/>
<rect x="633.41" y="336.36" width="6.2" height="6.14" fill="#f5ab69"/>
<rect x="633.41" y="336.36" width="6.2" height="6.14" fill="url(#hl)" stroke="#000" stroke-width="1.05"/>
<rect x="639.61" y="332.6" width="6.2" height="9.9" fill="#62b97c"/>
<rect x="639.61" y="332.6" width="6.2" height="9.9" fill="url(#hk)" stroke="#000" stroke-width="1.05"/>
<rect x="658.22" y="334.68" width="6.2" height="7.82" fill="#f5ab69"/>
<rect x="658.22" y="334.68" width="6.2" height="7.82" fill="url(#hl)" stroke="#000" stroke-width="1.05"/>
<rect x="664.42" y="315.23" width="6.2" height="27.27" fill="#62b97c"/>
<rect x="664.42" y="315.23" width="6.2" height="27.27" fill="url(#hk)" stroke="#000" stroke-width="1.05"/>
<rect x="683.03" y="333.97" width="6.2" height="8.53" fill="#f5ab69"/>
<rect x="683.03" y="333.97" width="6.2" height="8.53" fill="url(#hl)" stroke="#000" stroke-width="1.05"/>
<rect x="689.24" y="296.79" width="6.2" height="45.71" fill="#62b97c"/>
<rect x="689.24" y="296.79" width="6.2" height="45.71" fill="url(#hk)" stroke="#000" stroke-width="1.05"/>
<rect x="707.85" y="333.61" width="6.2" height="8.89" fill="#f5ab69"/>
<rect x="707.85" y="333.61" width="6.2" height="8.89" fill="url(#hl)" stroke="#000" stroke-width="1.05"/>
<rect x="714.05" y="273.64" width="6.2" height="68.86" fill="#62b97c"/>
<rect x="714.05" y="273.64" width="6.2" height="68.86" fill="url(#hk)" stroke="#000" stroke-width="1.05"/>
<rect x="732.66" y="334.32" width="6.2" height="8.18" fill="#f5ab69"/>
<rect x="732.66" y="334.32" width="6.2" height="8.18" fill="url(#hl)" stroke="#000" stroke-width="1.05"/>
<rect x="738.86" y="243.62" width="6.2" height="98.88" fill="#62b97c"/>
<rect x="738.86" y="243.62" width="6.2" height="98.88" fill="url(#hk)" stroke="#000" stroke-width="1.05"/>
<rect x="757.47" y="334.68" width="6.2" height="7.82" fill="#f5ab69"/>
<rect x="757.47" y="334.68" width="6.2" height="7.82" fill="url(#hl)" stroke="#000" stroke-width="1.05"/>
<rect x="763.68" y="219.4" width="6.2" height="123.1" fill="#62b97c"/>
<rect x="763.68" y="219.4" width="6.2" height="123.1" fill="url(#hk)" stroke="#000" stroke-width="1.05"/>
<rect x="782.29" y="334.68" width="6.2" height="7.82" fill="#f5ab69"/>
<rect x="782.29" y="334.68" width="6.2" height="7.82" fill="url(#hl)" stroke="#000" stroke-width="1.05"/>
<rect x="788.49" y="222.8" width="6.2" height="119.7" fill="#62b97c"/>
<rect x="788.49" y="222.8" width="6.2" height="119.7" fill="url(#hk)" stroke="#000" stroke-width="1.05"/>
<rect x="807.1" y="335.34" width="6.2" height="7.16" fill="#f5ab69"/>
<rect x="807.1" y="335.34" width="6.2" height="7.16" fill="url(#hl)" stroke="#000" stroke-width="1.05"/>
<rect x="813.3" y="243.27" width="6.2" height="99.23" fill="#62b97c"/>
<rect x="813.3" y="243.27" width="6.2" height="99.23" fill="url(#hk)" stroke="#000" stroke-width="1.05"/>
<rect x="598.05" y="213.05" width="232" height="129.45" fill="none" stroke="#000" stroke-width="0.85"/>
<line x1="594.65" x2="598.05" y1="342.5" y2="342.5" stroke="#000" stroke-width="0.8"/>
<text x="591.55" y="346.05" font-size="9.65" text-anchor="end">0</text>
<line x1="594.65" x2="598.05" y1="317.11" y2="317.11" stroke="#000" stroke-width="0.8"/>
<text x="591.55" y="320.66" font-size="9.65" text-anchor="end">500</text>
<line x1="594.65" x2="598.05" y1="291.72" y2="291.72" stroke="#000" stroke-width="0.8"/>
<text x="591.55" y="295.27" font-size="9.65" text-anchor="end">1000</text>
<line x1="594.65" x2="598.05" y1="266.32" y2="266.32" stroke="#000" stroke-width="0.8"/>
<text x="591.55" y="269.87" font-size="9.65" text-anchor="end">1500</text>
<line x1="594.65" x2="598.05" y1="240.93" y2="240.93" stroke="#000" stroke-width="0.8"/>
<text x="591.55" y="244.48" font-size="9.65" text-anchor="end">2000</text>
<line x1="594.65" x2="598.05" y1="215.54" y2="215.54" stroke="#000" stroke-width="0.8"/>
<text x="591.55" y="219.09" font-size="9.65" text-anchor="end">2500</text>
<line x1="614.8" x2="614.8" y1="342.5" y2="345.9" stroke="#000" stroke-width="0.8"/>
<text x="614.8" y="355.8" font-size="8.2" text-anchor="middle">32</text>
<line x1="639.61" x2="639.61" y1="342.5" y2="345.9" stroke="#000" stroke-width="0.8"/>
<text x="639.61" y="355.8" font-size="8.2" text-anchor="middle">64</text>
<line x1="664.42" x2="664.42" y1="342.5" y2="345.9" stroke="#000" stroke-width="0.8"/>
<text x="664.42" y="355.8" font-size="8.2" text-anchor="middle">128</text>
<line x1="689.24" x2="689.24" y1="342.5" y2="345.9" stroke="#000" stroke-width="0.8"/>
<text x="689.24" y="355.8" font-size="8.2" text-anchor="middle">256</text>
<line x1="714.05" x2="714.05" y1="342.5" y2="345.9" stroke="#000" stroke-width="0.8"/>
<text x="714.05" y="355.8" font-size="8.2" text-anchor="middle">512</text>
<line x1="738.86" x2="738.86" y1="342.5" y2="345.9" stroke="#000" stroke-width="0.8"/>
<text x="738.86" y="355.8" font-size="8.2" text-anchor="middle">1024</text>
<line x1="763.68" x2="763.68" y1="342.5" y2="345.9" stroke="#000" stroke-width="0.8"/>
<text x="763.68" y="355.8" font-size="8.2" text-anchor="middle">2048</text>
<line x1="788.49" x2="788.49" y1="342.5" y2="345.9" stroke="#000" stroke-width="0.8"/>
<text x="788.49" y="355.8" font-size="8.2" text-anchor="middle">4096</text>
<line x1="813.3" x2="813.3" y1="342.5" y2="345.9" stroke="#000" stroke-width="0.8"/>
<text x="813.3" y="355.8" font-size="8.2" text-anchor="middle">8192</text>
<text x="714.05" y="207.05" font-size="12.5" text-anchor="middle">QW-2 Int8</text>
<text x="714.05" y="369.9" font-size="11.7" text-anchor="middle">Prompt Length (Tokens)</text>
</g>
</svg>
<div class="cap"><span class="seg" id="seg-a" style="left:70.5px;letter-spacing:0.745px"><b>Figure 11.</b></span><span class="seg" id="seg-b" style="left:147.5px;letter-spacing:0.525px">Comparison of prefilling speed between</span><span class="seg" id="seg-c" style="left:423.75px;letter-spacing:0.445px">KT<span class="sm">RANSFORMERS</span></span><span class="seg" id="seg-d" style="left:543px;letter-spacing:0.537px">and the state-of-the-art baselines.</span></div>
</body>
</html>
